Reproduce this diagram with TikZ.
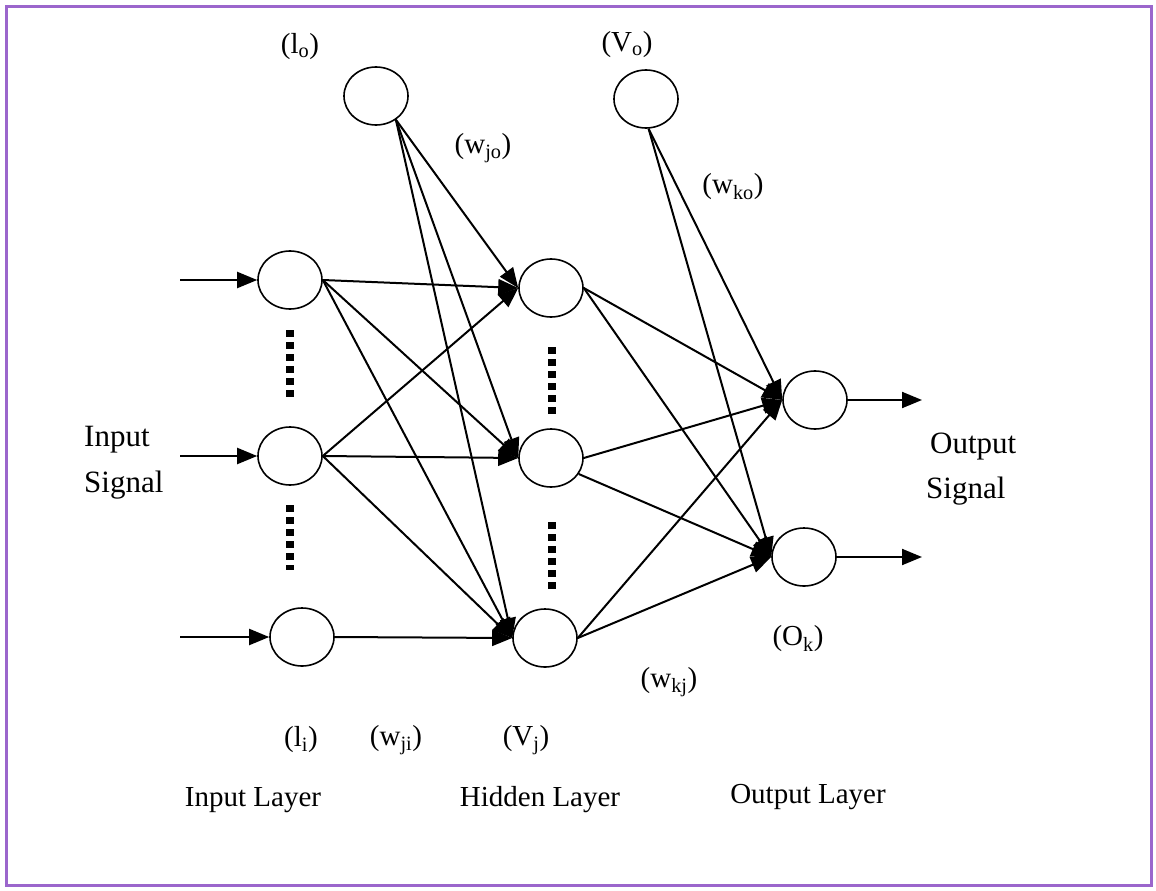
\documentclass[tikz,border=0pt]{standalone}
\usepackage{fontspec}
\setmainfont{Liberation Serif}
\usetikzlibrary{shapes.geometric,arrows.meta}
\definecolor{frame}{RGB}{155,102,204}
\tikzset{
  neuron/.style={ellipse,draw,line width=1.6pt,minimum width=64pt,minimum height=58pt,inner sep=0pt},
  conn/.style={line width=2pt,-{Triangle[length=20pt,width=16pt]}},
  lab/.style={font=\fontsize{29}{34}\selectfont,inner sep=0pt},
  siglab/.style={font=\fontsize{31}{36}\selectfont,inner sep=0pt,anchor=west},
  dots/.style={line width=8pt,dash pattern=on 7pt off 5pt}
}
\begin{document}
\begin{tikzpicture}[x=1pt,y=-1pt]
\useasboundingbox (0,0) rectangle (1156,891);
\draw[frame,line width=3pt] (6,7) rectangle (1151,885);
% nodes
\node[neuron] (i0) at (376,96) {};
\node[neuron] (in1) at (290,280) {};
\node[neuron] (in2) at (290,456) {};
\node[neuron] (in3) at (302,637) {};
\node[neuron] (h1) at (551,288) {};
\node[neuron] (h2) at (551,458) {};
\node[neuron] (h3) at (545,638) {};
\node[neuron] (v0) at (646,99) {};
\node[neuron] (o1) at (815,400) {};
\node[neuron] (o2) at (804,557) {};
% free ends
\coordinate (s1) at (180,280);
\coordinate (s2) at (180,456);
\coordinate (s3) at (180,637);
\coordinate (e1) at (922,400);
\coordinate (e2) at (922,557);
% inputs
\draw[conn] (s1) -- (in1.west);
\draw[conn] (s2) -- (in2.west);
\draw[conn] (s3) -- (in3.west);
% input -> hidden
\draw[conn] (in1.east) -- (h1.west);
\draw[conn] (in1.east) -- (h2.west);
\draw[conn] (in1.east) -- (h3.west);
\draw[conn] (in2.east) -- (h1.west);
\draw[conn] (in2.east) -- (h2.west);
\draw[conn] (in2.east) -- (h3.west);
\draw[conn] (in3.east) -- (h3.west);
% bias -> hidden
\draw[conn] (i0.-50) -- (h1.west);
\draw[conn] (i0.-50) -- (h2.west);
\draw[conn] (i0.-50) -- (h3.west);
% hidden -> output
\draw[conn] (h1.east) -- (o1.west);
\draw[conn] (h1.east) -- (o2.west);
\draw[conn] (h2.east) -- (o1.west);
\draw[conn] (h2.-30) -- (o2.west);
\draw[conn] (h3.east) -- (o1.west);
\draw[conn] (h3.east) -- (o2.west);
% bias -> output
\draw[conn] (v0.-85) -- (o1.west);
\draw[conn] (v0.-85) -- (o2.west);
% outputs
\draw[conn] (o1.east) -- (e1);
\draw[conn] (o2.east) -- (e2);
% dots
\draw[dots] (290,330) -- (290,401);
\draw[dots] (290,505) -- (290,570);
\draw[dots] (552,347) -- (552,418);
\draw[dots] (552,522) -- (552,593);
% labels
\node[lab] (li0) at (300,47) {(l\textsubscript{o})};
\node[lab] (lv0) at (627,45) {(V\textsubscript{o})};
\node[lab] (lwjo) at (483,148) {(w\textsubscript{jo})};
\node[lab] (lwko) at (733,187) {(w\textsubscript{ko})};
\node[lab] (lli) at (301,740) {(l\textsubscript{i})};
\node[lab] (lwji) at (396,740) {(w\textsubscript{ji})};
\node[lab] (lvj) at (526,740) {(V\textsubscript{j})};
\node[lab] (lok) at (798,639) {(O\textsubscript{k})};
\node[lab] (lwkj) at (669,682) {(w\textsubscript{kj})};
\node[siglab] (ins1) at (84,440) {Input};
\node[siglab] (ins2) at (84,485) {Signal};
\node[siglab] (outs1) at (930,447) {Output};
\node[siglab] (outs2) at (926,491) {Signal};
\node[lab] (il) at (253,800) {Input Layer};
\node[lab] (hl) at (540,800) {Hidden Layer};
\node[lab] (ol) at (808,797) {Output Layer};
\end{tikzpicture}
\end{document}
